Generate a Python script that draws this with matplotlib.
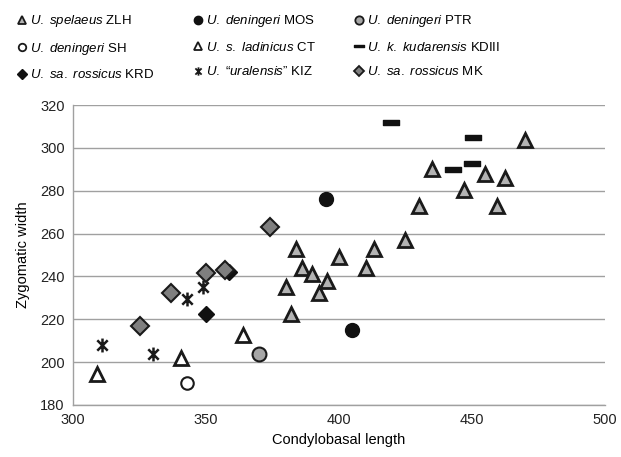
import numpy as np
import matplotlib.pyplot as plt
from matplotlib.path import Path
from matplotlib.lines import Line2D

plt.rcParams['font.family'] = ['Liberation Sans', 'DejaVu Sans']
plt.rcParams['mathtext.fontset'] = 'custom'
plt.rcParams['mathtext.rm'] = 'Liberation Sans'
plt.rcParams['mathtext.it'] = 'Liberation Sans:italic'

# data (condylobasal length, zygomatic width)
zlh_x = [380, 382, 384, 386, 390, 392.5, 395.5, 400, 410, 413, 425, 430, 435, 447, 455, 459.5, 462.5, 470]
zlh_y = [235, 222.5, 253, 244, 241, 232.5, 238, 249, 244, 253, 257, 273, 290, 280.5, 288, 273, 286, 303.5]
mos_x = [395, 405]
mos_y = [276, 215]
ptr_x = [370]
ptr_y = [204]
sh_x = [343]
sh_y = [190.5]
ct_x = [309, 340.5, 364]
ct_y = [194.5, 202, 212.5]
kd_x = [419.5, 443, 450, 450.5]
kd_y = [312, 290, 293, 305]
krd_x = [350, 358.5]
krd_y = [222.5, 242]
kiz_x = [311, 330, 343, 349]
kiz_y = [208, 204, 229.5, 235]
mk_x = [325, 337, 350, 357, 374]
mk_y = [217, 232.5, 241.5, 243, 263]

# custom markers
dash = Path([(-1.5, -0.45), (1.5, -0.45), (1.5, 0.45), (-1.5, 0.45), (-1.5, -0.45)],
            [Path.MOVETO, Path.LINETO, Path.LINETO, Path.LINETO, Path.CLOSEPOLY])
star = Path([(0, -1), (0, 1), (-0.75, -0.75), (0.75, 0.75), (-0.75, 0.75), (0.75, -0.75)],
            [Path.MOVETO, Path.LINETO, Path.MOVETO, Path.LINETO, Path.MOVETO, Path.LINETO])

fig = plt.figure(figsize=(6.21, 4.57), dpi=100)
ax = fig.add_axes([0.1176, 0.1138, 0.8564, 0.6562])

series = [
    (zlh_x, zlh_y, r'$\mathit{U.\ spelaeus}$ ZLH', dict(marker='^', ms=10, mfc='#b3b3b3', mec='#1a1a1a', mew=2)),
    (sh_x, sh_y, r'$\mathit{U.\ deningeri}$ SH', dict(marker='o', ms=9, mfc='white', mec='#1a1a1a', mew=1.5)),
    (krd_x, krd_y, r'$\mathit{U.\ sa.\ rossicus}$ KRD', dict(marker='D', ms=8, mfc='#111111', mec='#111111', mew=1)),
    (mos_x, mos_y, r'$\mathit{U.\ deningeri}$ MOS', dict(marker='o', ms=10, mfc='#111111', mec='#111111', mew=1)),
    (ct_x, ct_y, r'$\mathit{U.\ s.\ ladinicus}$ CT', dict(marker='^', ms=10, mfc='white', mec='#1a1a1a', mew=2)),
    (kiz_x, kiz_y, r'$\mathit{U.}$ “$\mathit{uralensis}$” KIZ', dict(marker=star, ms=10, mfc='none', mec='#1a1a1a', mew=1.8)),
    (ptr_x, ptr_y, r'$\mathit{U.\ deningeri}$ PTR', dict(marker='o', ms=10, mfc='#a6a6a6', mec='#1a1a1a', mew=1.5)),
    (kd_x, kd_y, r'$\mathit{U.\ k.\ kudarensis}$ KDIII', dict(marker=dash, ms=12, mfc='#111111', mec='#111111', mew=1)),
    (mk_x, mk_y, r'$\mathit{U.\ sa.\ rossicus}$ MK', dict(marker='D', ms=9, mfc='#7f7f7f', mec='#1a1a1a', mew=1.5)),
]

# draw order: KRD under MK
draw_order = [2, 0, 1, 3, 4, 5, 6, 7, 8]
for i in draw_order:
    x, y, lab, st = series[i]
    ax.plot(x, y, linestyle='none', zorder=3, **st)

# small legend keys with thinner edges, as in the original
handles = []
for x, y, lab, st in series:
    kst = dict(st)
    kst['ms'] = st['ms'] * 0.6
    kst['mew'] = min(st['mew'], 1.3)
    handles.append(Line2D([], [], linestyle='none', **kst))

ax.set_xlim(300, 500)
ax.set_ylim(180, 320)
ax.set_xticks(np.arange(300, 501, 50))
ax.set_yticks(np.arange(180, 321, 20))
ax.tick_params(length=0, labelsize=10.5, colors='#222222', pad=6)
ax.yaxis.grid(True, color='#a0a0a0', linewidth=1)
ax.set_axisbelow(True)
for s in ['top', 'right']:
    ax.spines[s].set_visible(False)
for s in ['left', 'bottom']:
    ax.spines[s].set_color('#a0a0a0')
    ax.spines[s].set_linewidth(1)
ax.set_xlabel('Condylobasal length', fontsize=10.5, labelpad=4)
ax.set_ylabel('Zygomatic width', fontsize=10.5, labelpad=7)

fig.legend(handles=handles, labels=[s[2] for s in series], ncol=3,
           loc='upper left', bbox_to_anchor=(0.01, 0.997), frameon=False,
           fontsize=9.5, handlelength=0.6, handletextpad=0.3,
           columnspacing=3.0, labelspacing=0.88)

fig.savefig('out.png', dpi=100)
